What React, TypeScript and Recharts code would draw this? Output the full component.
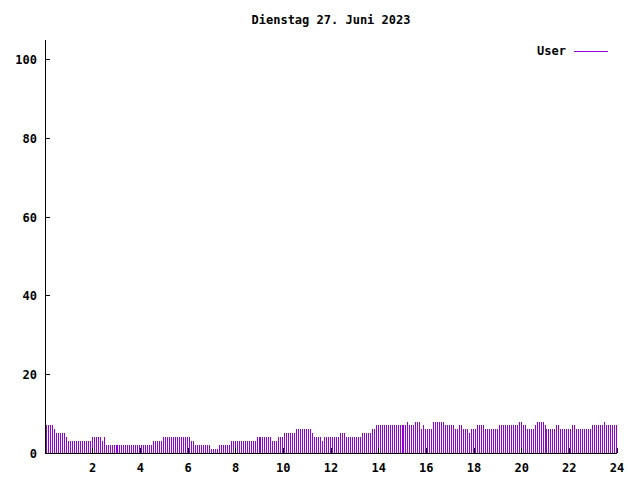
import * as React from 'react';
import { BarChart, Bar, XAxis, YAxis, Legend } from 'recharts';

// logged-in users, one value every 5 minutes (0:05 .. 24:00), one row per hour
const USERS = [
  7, 7, 7, 7, 6, 5, 5, 5, 5, 5, 4, 3,
  3, 3, 3, 3, 3, 3, 3, 3, 3, 3, 3, 4,
  4, 4, 4, 4, 3, 4, 2, 2, 2, 2, 2, 2,
  2, 2, 2, 2, 2, 2, 2, 2, 2, 2, 2, 2,
  2, 2, 2, 2, 2, 2, 3, 3, 3, 3, 3, 4,
  4, 4, 4, 4, 4, 4, 4, 4, 4, 4, 4, 4,
  4, 3, 3, 2, 2, 2, 2, 2, 2, 2, 2, 1,
  1, 1, 1, 2, 2, 2, 2, 2, 2, 3, 3, 3,
  3, 3, 3, 3, 3, 3, 3, 3, 3, 3, 4, 4,
  4, 4, 4, 4, 4, 4, 3, 3, 3, 4, 4, 4,
  5, 5, 5, 5, 5, 5, 6, 6, 6, 6, 6, 6,
  6, 6, 5, 4, 4, 4, 4, 3, 4, 4, 4, 4,
  4, 4, 4, 4, 5, 5, 5, 4, 4, 4, 4, 4,
  4, 4, 4, 5, 5, 5, 5, 5, 6, 6, 7, 7,
  7, 7, 7, 7, 7, 7, 7, 7, 7, 7, 7, 7,
  7, 7, 8, 7, 7, 7, 8, 8, 8, 6, 7, 6,
  6, 6, 6, 8, 8, 8, 8, 8, 8, 7, 7, 7,
  7, 7, 6, 6, 7, 7, 6, 6, 6, 5, 6, 6,
  6, 7, 7, 7, 7, 6, 6, 6, 6, 6, 6, 6,
  7, 7, 7, 7, 7, 7, 7, 7, 7, 7, 8, 8,
  7, 7, 6, 6, 6, 6, 7, 8, 8, 8, 8, 7,
  6, 6, 6, 6, 6, 7, 7, 6, 6, 6, 6, 6,
  6, 7, 7, 6, 6, 6, 6, 6, 6, 6, 6, 7,
  7, 7, 7, 7, 7, 8, 7, 7, 7, 7, 7, 7,
];

const HOUR_TICKS = [2, 4, 6, 8, 10, 12, 14, 16, 18, 20, 22, 24];
const VALUE_TICKS = [0, 20, 40, 60, 80, 100];
const TITLE = 'Dienstag 27. Juni 2023';
const SERIES_NAME = 'User';

const PURPLE = '#9400d3';
const FONT = '"DejaVu Sans Mono", "Liberation Mono", monospace';
const TIC = 5;

const data = USERS.map((v, i) => ({ t: (i + 1) / 12, user: v }));

const textStyle = { fontFamily: FONT, fontSize: 12, fontWeight: 'bold' as const, fill: '#000' };

// gnuplot style: tics point into the plot, labels outside
function BottomTick({ x, y, payload }: any) {
  return (
    <g>
      <line x1={x} y1={y} x2={x} y2={y - TIC} stroke="#000" />
      <text x={x} y={y + 19} textAnchor="middle" {...textStyle}>
        {payload.value}
      </text>
    </g>
  );
}

function TopTick({ x, y }: any) {
  return <line x1={x} y1={y} x2={x} y2={y + TIC} stroke="#000" />;
}

function LeftTick({ x, y, payload }: any) {
  return (
    <g>
      <line x1={x} y1={y} x2={x + TIC} y2={y} stroke="#000" />
      <text x={x - 8} y={y + 4.5} textAnchor="end" {...textStyle}>
        {payload.value}
      </text>
    </g>
  );
}

function RightTick({ x, y }: any) {
  return <line x1={x} y1={y} x2={x - TIC} y2={y} stroke="#000" />;
}

function KeyBox() {
  return (
    <div
      style={{
        display: 'flex',
        alignItems: 'center',
        fontFamily: FONT,
        fontSize: 12,
        fontWeight: 'bold',
        lineHeight: '14px',
        color: '#000',
      }}
    >
      <span>{SERIES_NAME}</span>
      <svg width={34} height={3} style={{ marginLeft: 8, display: 'block' }}>
        <line x1={0} y1={1.5} x2={34} y2={1.5} stroke={PURPLE} strokeWidth={1} />
      </svg>
    </div>
  );
}

export default function App() {
  return (
    <div
      style={{
        position: 'absolute',
        left: 0,
        top: 0,
        width: 640,
        height: 480,
        background: '#fff',
        shapeRendering: 'crispEdges',
      }}
    >
      <div
        style={{
          position: 'absolute',
          left: 0,
          top: 13,
          width: 662,
          textAlign: 'center',
          fontFamily: FONT,
          fontSize: 12,
          fontWeight: 'bold',
          lineHeight: '14px',
        }}
      >
        {TITLE}
      </div>
      <BarChart
        width={640}
        height={480}
        data={data}
        margin={{ top: 40, right: 23, left: 0, bottom: 0 }}
      >
        <XAxis
          dataKey="t"
          type="number"
          domain={[0, 24]}
          ticks={HOUR_TICKS}
          interval={0}
          height={27}
          tickSize={0}
          tickMargin={0}
          tickLine={false}
          axisLine={{ stroke: '#000' }}
          tick={<BottomTick />}
        />
        <XAxis
          xAxisId="top"
          orientation="top"
          type="number"
          domain={[0, 24]}
          ticks={HOUR_TICKS}
          interval={0}
          height={0}
          tickSize={0}
          tickMargin={0}
          tickLine={false}
          axisLine={{ stroke: '#000' }}
          tick={<TopTick />}
        />
        <YAxis
          type="number"
          domain={[0, 105]}
          ticks={VALUE_TICKS}
          interval={0}
          width={45}
          tickSize={0}
          tickMargin={0}
          tickLine={false}
          axisLine={{ stroke: '#000' }}
          tick={<LeftTick />}
        />
        <YAxis
          yAxisId="right"
          orientation="right"
          type="number"
          domain={[0, 105]}
          ticks={VALUE_TICKS}
          interval={0}
          width={0}
          tickSize={0}
          tickMargin={0}
          tickLine={false}
          axisLine={{ stroke: '#000' }}
          tick={<RightTick />}
        />
        <Legend
          layout="horizontal"
          verticalAlign="middle"
          align="center"
          content={<KeyBox />}
          wrapperStyle={{ position: 'absolute', left: 537, top: 44, width: 'auto', height: 'auto' }}
        />
        <Bar
          dataKey="user"
          name={SERIES_NAME}
          fill={PURPLE}
          barSize={1}
          isAnimationActive={false}
        />
      </BarChart>
    </div>
  );
}
